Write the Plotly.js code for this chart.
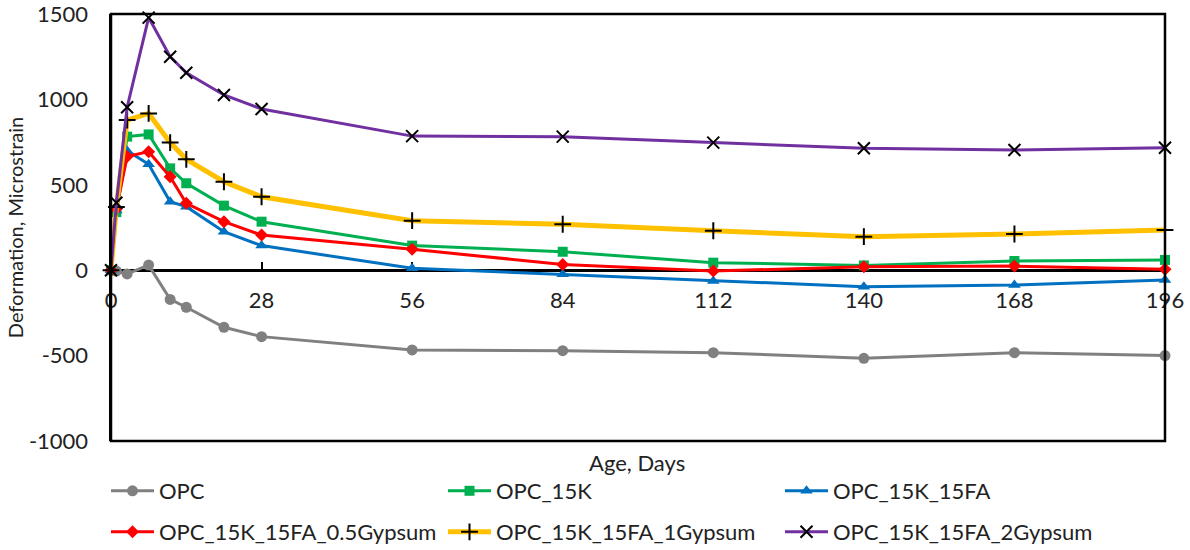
<!DOCTYPE html>
<html>
<head>
<meta charset="utf-8">
<script src="https://cdn.plot.ly/plotly-3.0.1.min.js"></script>
<style>html,body{margin:0;padding:0;background:#fff;}#chart{width:1190px;height:550px;}</style>
</head>
<body>
<div id="chart"></div>
<script>
const days = [0, 1, 3, 7, 11, 14, 21, 28, 56, 84, 112, 140, 168, 196];
const xTicks = [0, 28, 56, 84, 112, 140, 168, 196];
const yTicks = [-1000, -500, 0, 500, 1000, 1500];
const yTickText = ["-1000", "-500", "0", "500", "1000", "1500"];
const seriesNames = ["OPC", "OPC_15K", "OPC_15K_15FA", "OPC_15K_15FA_0.5Gypsum", "OPC_15K_15FA_1Gypsum", "OPC_15K_15FA_2Gypsum"];
const opc        = [0, -5, -22, 30, -171, -217, -334, -389, -467, -471, -483, -516, -483, -500];
const opc15k     = [0, 340, 782, 795, 596, 509, 378, 284, 144, 108, 44, 28, 54, 60];
const opc15k15fa = [0, 350, 700, 620, 401, 372, 225, 144, 11, -24, -63, -97, -87, -57];
const gyp05      = [0, 360, 665, 694, 547, 392, 284, 206, 122, 34, -5, 20, 24, 5];
const gyp1       = [0, 370, 879, 918, 747, 649, 518, 430, 290, 269, 231, 196, 212, 235];
const gyp2       = [0, 395, 954, 1479, 1250, 1156, 1026, 944, 785, 782, 747, 714, 704, 717];

const FONT = "Lato, 'Open Sans', sans-serif";
const TXT = "#222";
const FS = 22;

function tr(name, y, color, lw, symbol, msize, mcolor, mlw, legend) {
  return {
    x: days, y: y, name: name, type: "scatter", mode: "lines+markers",
    line: {color: color, width: lw},
    marker: {symbol: symbol, size: msize, color: mcolor, line: {color: mcolor, width: mlw}},
    cliponaxis: false, legend: legend
  };
}

const data = [
  tr(seriesNames[0], opc, "#808080", 3, "circle", 11, "#808080", 0, "legend"),
  tr(seriesNames[1], opc15k, "#00B050", 3, "square", 10, "#00B050", 0, "legend"),
  tr(seriesNames[2], opc15k15fa, "#0070C0", 3, "triangle-up", 11, "#0070C0", 0, "legend"),
  tr(seriesNames[3], gyp05, "#FF0000", 3, "diamond", 10, "#FF0000", 0, "legend2"),
  tr(seriesNames[4], gyp1, "#FFC000", 5, "cross-thin", 12, "#000000", 2, "legend2"),
  tr(seriesNames[5], gyp2, "#7030A0", 3, "x-thin", 12, "#000000", 2, "legend2")
];

const legendBase = {
  orientation: "h", xref: "container", yref: "container", xanchor: "left", yanchor: "middle",
  x: 106 / 1190, entrywidth: 279, entrywidthmode: "pixels", itemwidth: 43,
  font: {family: FONT, size: FS, color: TXT}, bgcolor: "rgba(0,0,0,0)", traceorder: "normal"
};

const layout = {
  width: 1190, height: 550,
  margin: {l: 111, r: 25, t: 14, b: 109},
  paper_bgcolor: "#fff", plot_bgcolor: "#fff",
  font: {family: FONT, size: FS, color: TXT},
  showlegend: true,
  xaxis: {
    range: [0, 196], tickvals: xTicks, ticktext: xTicks.map(String),
    anchor: "free", position: 0.4,
    showline: true, linecolor: "#000", linewidth: 2.5,
    ticks: "inside", ticklen: 7, tickwidth: 2, tickcolor: "#000",
    ticklabelstandoff: 10, ticklabeloverflow: "allow",
    showgrid: false, zeroline: false, layer: "below traces",
    tickfont: {family: FONT, size: FS, color: TXT}
  },
  yaxis: {
    range: [-1000, 1500], tickvals: yTicks, ticktext: yTickText,
    showline: true, linecolor: "#000", linewidth: 2.5,
    ticks: "outside", ticklen: 16, tickcolor: "rgba(0,0,0,0)",
    ticklabeloverflow: "allow",
    showgrid: false, zeroline: false,
    tickfont: {family: FONT, size: FS, color: TXT},
    title: {text: "Deformation, Microstrain", font: {family: FONT, size: 20, color: TXT}, standoff: 0}
  },
  shapes: [{type: "rect", xref: "paper", yref: "paper", x0: 0, x1: 1, y0: 0, y1: 1, line: {color: "#000", width: 2.5}, layer: "above"}],
  annotations: [{text: "Age, Days", xref: "paper", yref: "paper", x: (637 - 111) / 1054, y: (441 - 462) / 427,
    xanchor: "center", yanchor: "middle", showarrow: false, font: {family: FONT, size: FS, color: TXT}}],
  legend: Object.assign({}, legendBase, {y: 1 - 491 / 550}),
  legend2: Object.assign({}, legendBase, {y: 1 - 532 / 550})
};

Plotly.newPlot("chart", data, layout, {displayModeBar: false, staticPlot: true});
</script>
</body>
</html>
